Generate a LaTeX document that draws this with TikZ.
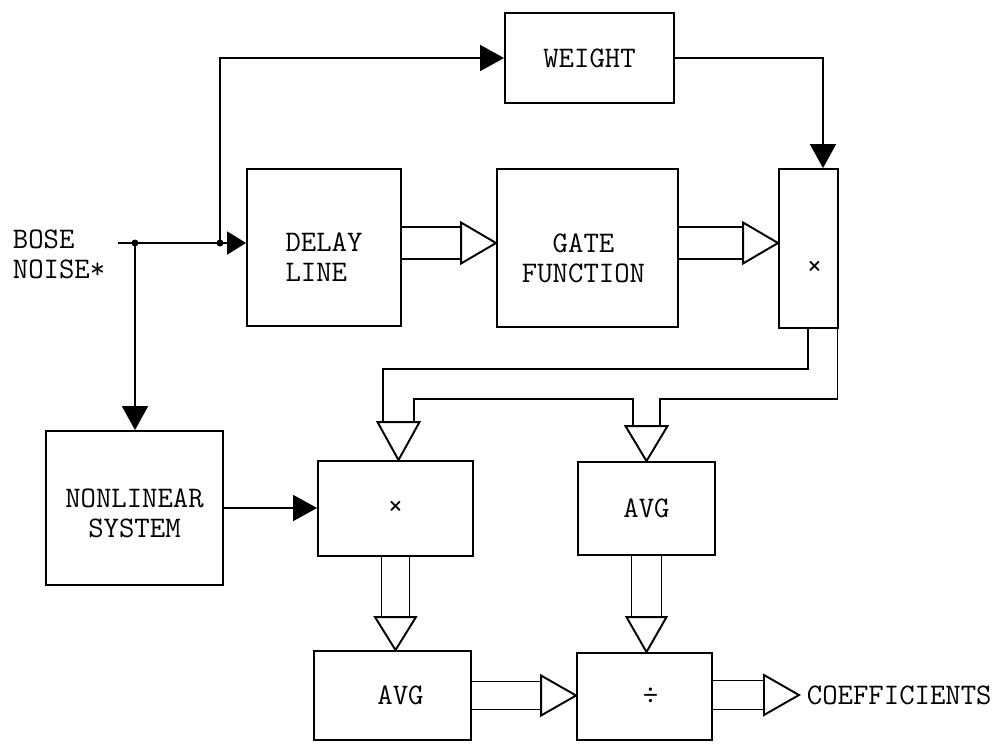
\documentclass[tikz,border=0pt]{standalone}
\usepackage{fontspec}
\usetikzlibrary{arrows.meta,calc}
\newcommand\dblR[4]{%
  \draw ($(#1)+(0,-#3)$) -- ($(#2)+(-35,-#3)$);
  \draw ($(#1)+(0,#3)$) -- ($(#2)+(-35,#3)$);
  \draw (#2) -- ++(-35,-#4) -- ++(0,{2*#4}) -- cycle;}
\newcommand\dblD[5]{%
  \draw ($(#1)+(-#3,0)$) -- ($(#2)+(-#3,-#5)$);
  \draw ($(#1)+(#3,0)$) -- ($(#2)+(#3,-#5)$);
  \draw (#2) -- ++(-#4,-#5) -- ++({2*#4},0) -- cycle;}
\begin{document}
\begin{tikzpicture}[x=0.02cm,y=-0.02cm,line width=1.1pt,
  txt/.style={font=\fontsize{17}{17}\selectfont\ttfamily,inner sep=0pt},
  blk/.style={draw,txt,inner sep=0pt,align=center},
  thin/.style={-{Triangle[length=0.48cm,width=0.52cm]}},
  thinsm/.style={-{Triangle[length=0.38cm,width=0.46cm]}}]
\useasboundingbox (0,0) rectangle (1005,745);
% boxes
\node[blk,minimum width=3.38cm,minimum height=1.80cm] (weight) at (589.5,58) {WEIGHT};
\node[blk,minimum width=3.08cm,minimum height=3.14cm] (delay) at (324,247.5) {};
\node[blk,minimum width=3.62cm,minimum height=3.16cm] (gate) at (587.5,248) {};
\node[blk,minimum width=1.18cm,minimum height=3.18cm] (mulA) at (808.5,248.5) {};
\node[blk,minimum width=3.54cm,minimum height=3.08cm] (nonlin) at (134.5,508) {};
\node[blk,minimum width=3.10cm,minimum height=1.90cm] (mulB) at (395.5,508.5) {×};
\node[blk,minimum width=2.74cm,minimum height=1.86cm] (avgA) at (646.5,508.5) {AVG};
\node[blk,minimum width=3.14cm,minimum height=1.78cm] (avgB) at (392.5,695.5) {};
\node[blk,minimum width=2.70cm,minimum height=1.74cm] (div) at (644.5,696.5) {};
% box labels
\node[txt,align=left] (delayT) at ($(delay.center)+(0,10)$) {DELAY\\LINE};
\node[txt,align=center] (gateT) at ($(gate.center)+(-4,10)$) {GATE\\FUNCTION};
\node[txt] (mulAT) at ($(mulA.center)+(6,20)$) {×};
\node[txt,align=center] (nonlinT) at ($(nonlin.center)+(0,5)$) {NONLINEAR\\SYSTEM};
\node[txt] (avgBT) at ($(avgB.center)+(8,0)$) {AVG};
\node[txt] (divT) at ($(div.center)+(6,0)$) {÷};
% texts
\node[txt,anchor=west,align=left] (src) at (12,254) {BOSE\\NOISE*};
\node[txt,anchor=west] (coef) at (806,695) {COEFFICIENTS};
% input connectors
\coordinate (in) at (118,243);
\coordinate (j1) at (135,243);
\coordinate (j2) at (220,243);
\draw (in) -- (j2);
\draw[thinsm] (j2) -- (delay.west |- j1);
\fill (j1) circle (0.07cm);
\fill (j2) circle (0.07cm);
\draw[thin] (j2) |- (weight.west);
\draw[thin] (j1) -- (j1 |- nonlin.north);
\draw[thin] (nonlin.east) -- (nonlin.east -| mulB.west);
\draw[thin] (weight.east) -| ($(mulA.north)+(14.5,0)$);
% double arrows horizontal
\coordinate (t1) at ($(gate.west)+(0,-5)$);
\dblR{delay.east |- t1}{t1}{16}{20.5}
\coordinate (t2) at ($(mulA.west)+(0,-5.5)$);
\dblR{gate.east |- t2}{t2}{16}{20.5}
\coordinate (t3) at (div.west |- avgB.east);
\dblR{avgB.east}{t3}{14}{20}
\coordinate (t4) at ($(coef.west)+(-7,0)$);
\dblR{div.east |- t4}{t4}{14.5}{20}
% double arrows vertical
\coordinate (t5) at (mulB.south |- avgB.north);
\dblD{mulB.south}{t5}{14}{20.5}{33}
\coordinate (t6) at (avgA.south |- div.north);
\dblD{avgA.south}{t6}{15}{20}{35}
% branched double arrow from top multiplier
\coordinate (tipB) at ($(mulB.north)+(3,0)$);
\coordinate (tipA) at (avgA.north);
\coordinate (oL) at ($(mulA.south west)+(30,0)$);
\coordinate (oR) at ($(mulA.south east)+(-1.5,0)$);
\draw (oL) |- ($(tipB)+(-15.5,-91)$) -- ($(tipB)+(-15.5,-38)$);
\draw (oR) |- ($(tipA)+(13.5,-62)$) -- ($(tipA)+(13.5,-35)$);
\draw ($(tipA)+(-13.5,-35)$) |- ($(tipB)+(15.5,-61)$) -- ($(tipB)+(15.5,-38)$);
\draw (tipB) -- ++(-21,-38) -- ++(42,0) -- cycle;
\draw (tipA) -- ++(-21,-35) -- ++(42,0) -- cycle;
\end{tikzpicture}
\end{document}
